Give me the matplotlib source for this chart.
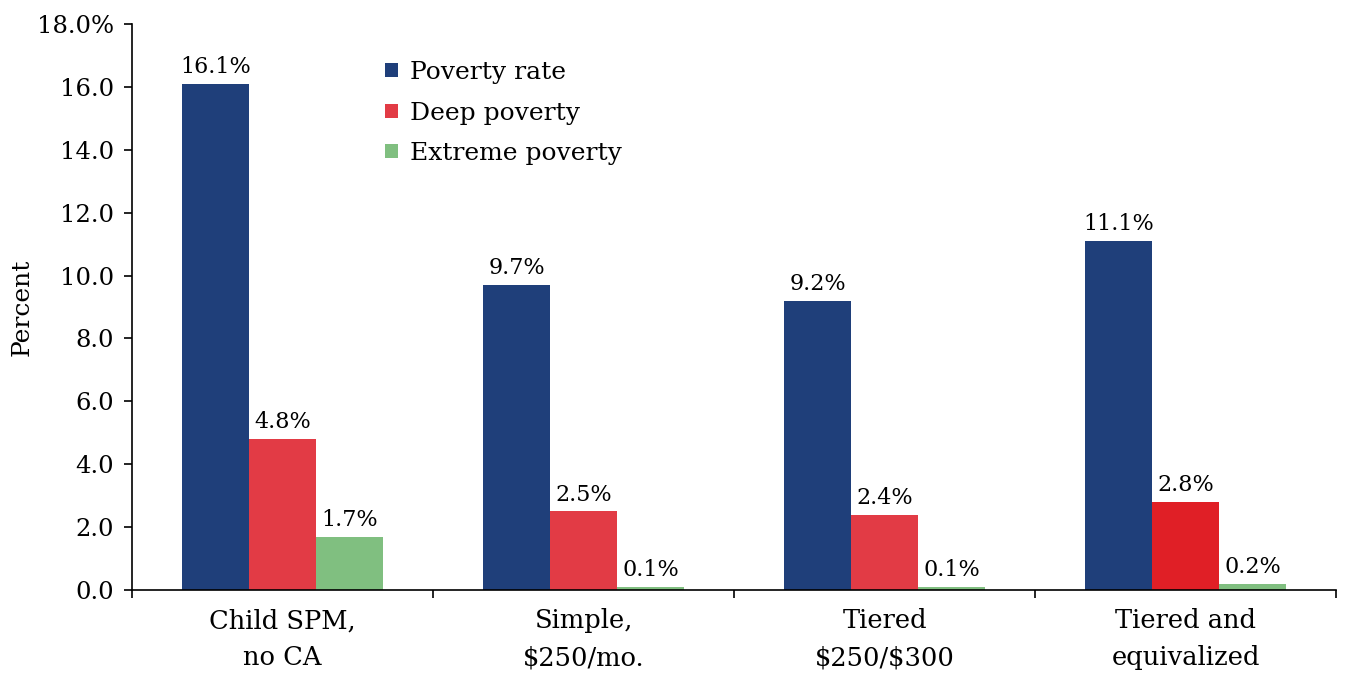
import matplotlib.pyplot as plt
import numpy as np

plt.rcParams['font.family'] = ['DejaVu Serif']

categories = ['Child SPM,\nno CA', 'Simple,\n\\$250/mo.', 'Tiered\n\\$250/\\$300', 'Tiered and\nequivalized']
poverty = [16.1, 9.7, 9.2, 11.1]
deep = [4.8, 2.5, 2.4, 2.8]
extreme = [1.7, 0.1, 0.1, 0.2]
yticks = [0, 2, 4, 6, 8, 10, 12, 14, 16, 18]
ytick_labels = ['0.0', '2.0', '4.0', '6.0', '8.0', '10.0', '12.0', '14.0', '16.0', '18.0%']

blue = '#1F3F7A'
red = '#E23B45'
red_last = '#E01F26'
green = '#80BF80'

fig = plt.figure(figsize=(13.47, 6.77), dpi=100)
ax = fig.add_axes([0.098, 0.1285, 0.894, 0.836])

x = np.arange(len(categories))
w = 0.222
b1 = ax.bar(x - w, poverty, w, color=blue, label='Poverty rate')
b2 = ax.bar(x, deep, w, color=[red, red, red, red_last], label='Deep poverty')
b3 = ax.bar(x + w, extreme, w, color=green, label='Extreme poverty')

for bars, vals in [(b1, poverty), (b2, deep), (b3, extreme)]:
    for rect, v in zip(bars, vals):
        ax.text(rect.get_x() + rect.get_width() / 2, v + 0.18, f'{v:.1f}%',
                ha='center', va='bottom', fontsize=16)

ax.set_xlim(-0.5, 3.5)
ax.set_ylim(0, 18)
ax.set_yticks(yticks)
ax.set_yticklabels(ytick_labels, fontsize=17.5)
ax.set_xticks(np.arange(-0.5, 4, 1))
ax.set_xticklabels([])
ax.set_xticks(x, minor=True)
ax.set_xticklabels(categories, minor=True, fontsize=18.5, linespacing=1.6)
ax.tick_params(axis='x', which='minor', length=0, pad=13)
ax.tick_params(axis='both', which='major', length=6, width=1.2, direction='out')
ax.tick_params(axis='y', pad=7)
for s in ['top', 'right']:
    ax.spines[s].set_visible(False)
for s in ['left', 'bottom']:
    ax.spines[s].set_linewidth(1.2)

ax.set_ylabel('Percent', fontsize=18, labelpad=10)
ax.yaxis.set_label_coords(-0.082, 0.5)

ax.legend(loc='upper left', bbox_to_anchor=(0.202, 0.952), frameon=False, fontsize=18,
          handlelength=0.5, handleheight=0.5, handletextpad=0.5, labelspacing=0.7,
          borderaxespad=0)

fig.savefig('out.png', dpi=100)
